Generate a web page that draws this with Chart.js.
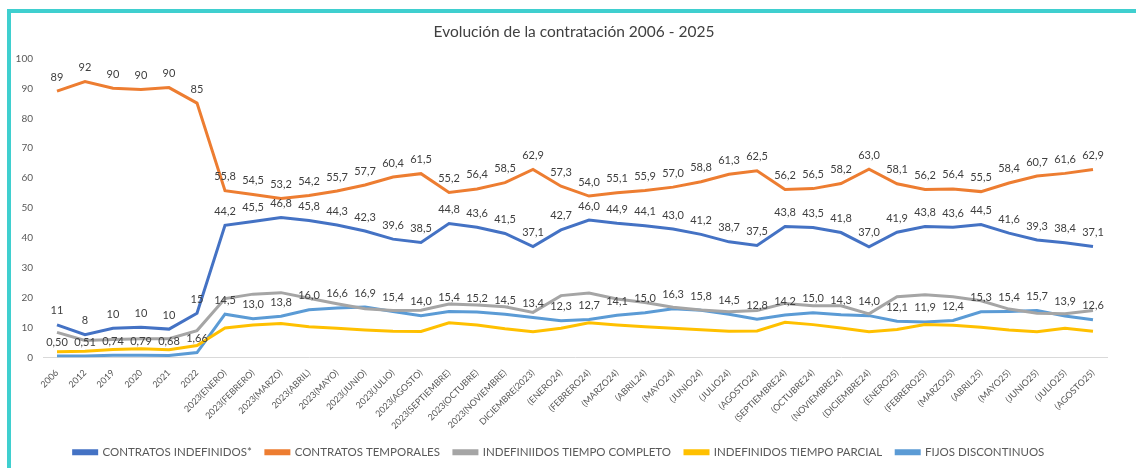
<!DOCTYPE html>
<html>
<head>
<meta charset="utf-8">
<script src="https://cdn.jsdelivr.net/npm/chart.js@4.4.1/dist/chart.umd.min.js"></script>
<style>
  html, body { margin: 0; padding: 0; background: #fff; }
  #frame {
    position: absolute; left: 7px; top: 9px; width: 1125px; height: 455px;
    border-left: 4px solid #3fcfcf; border-top: 4px solid #3fcfcf;
  }
  #chart { display: block; }
</style>
</head>
<body>
<div id="frame"><canvas id="chart" width="1125" height="455"></canvas></div>
<script>
const categories = [
  '2006', '2012', '2019', '2020', '2021', '2022',
  '2023(ENERO)', '2023(FEBRERO)', '2023(MARZO)', '2023(ABRIL)', '2023(MAYO)', '2023(JUNIO)',
  '2023(JULIO)', '2023(AGOSTO)', '2023(SEPTIEMBRE)', '2023(OCTUBRE)', '2023(NOVIEMBRE)', 'DICIEMBRE(2023)',
  '(ENERO24)', '(FEBRERO24)', '(MARZO24)', '(ABRIL24)', '(MAYO24)', '(JUNIO24)',
  '(JULIO24)', '(AGOSTO24)', '(SEPTIEMBRE24)', '(OCTUBRE24)', '(NOVIEMBRE24)', '(DICIEMBRE24)',
  '(ENERO25)', '(FEBRERO25)', '(MARZO25)', '(ABRIL25)', '(MAYO25)', '(JUNIO25)', '(JULIO25)', '(AGOSTO25)'
];

// first points are yearly figures, the rest are months
const yearCount = 6;

const indefinidos = [
  10.9, 7.6, 9.8, 10.1, 9.5, 14.8,
  44.2, 45.5, 46.8, 45.8, 44.3, 42.3, 39.6, 38.5, 44.8, 43.6, 41.5, 37.1,
  42.7, 46.0, 44.9, 44.1, 43.0, 41.2, 38.7, 37.5, 43.8, 43.5, 41.8, 37.0,
  41.9, 43.8, 43.6, 44.5, 41.6, 39.3, 38.4, 37.1
];

const temporales = [
  89.1, 92.3, 90.1, 89.7, 90.3, 85.1,
  55.8, 54.5, 53.2, 54.2, 55.7, 57.7, 60.4, 61.5, 55.2, 56.4, 58.5, 62.9,
  57.3, 54.0, 55.1, 55.9, 57.0, 58.8, 61.3, 62.5, 56.2, 56.5, 58.2, 63.0,
  58.1, 56.2, 56.4, 55.5, 58.4, 60.7, 61.6, 62.9
];

const tiempoCompleto = [
  8.4, 5.7, 6.0, 6.3, 6.3, 9.0,
  19.7, 21.2, 21.7, 19.8, 18.0, 16.3, 15.7, 15.8, 17.9, 17.6, 17.0, 15.1,
  20.7, 21.6, 19.6, 18.4, 16.8, 15.9, 15.3, 15.7, 18.1, 17.3, 17.3, 14.6,
  20.3, 21.0, 20.3, 19.0, 16.2, 14.8, 14.6, 15.7
];

const tiempoParcial = [
  1.9, 2.1, 2.7, 2.9, 2.6, 4.0,
  9.9, 10.9, 11.4, 10.3, 9.8, 9.2, 8.8, 8.7, 11.6, 10.9, 9.6, 8.6,
  9.8, 11.6, 10.9, 10.3, 9.8, 9.3, 8.8, 8.9, 11.8, 11.0, 9.9, 8.6,
  9.4, 11.0, 10.8, 10.1, 9.2, 8.6, 9.8, 8.8
];

const fijosDiscontinuos = [
  0.50, 0.51, 0.74, 0.79, 0.68, 1.66,
  14.5, 13.0, 13.8, 16.0, 16.6, 16.9, 15.4, 14.0, 15.4, 15.2, 14.5, 13.4,
  12.3, 12.7, 14.1, 15.0, 16.3, 15.8, 14.5, 12.8, 14.2, 15.0, 14.3, 14.0,
  12.1, 11.9, 12.4, 15.3, 15.4, 15.7, 13.9, 12.6
];

const fmt = (v, d) => v.toFixed(d).replace('.', ',');

// value labels above the points, Excel style
const valueLabels = {
  id: 'valueLabels',
  afterDatasetsDraw(chart) {
    const ctx = chart.ctx;
    ctx.save();
    ctx.font = '11px Lato';
    ctx.fillStyle = '#404040';
    ctx.textAlign = 'center';
    ctx.textBaseline = 'middle';
    chart.data.datasets.forEach((ds, di) => {
      if (ds.yearDigits === undefined) return;
      chart.getDatasetMeta(di).data.forEach((pt, i) => {
        const d = i < yearCount ? ds.yearDigits : 1;
        ctx.fillText(fmt(ds.data[i], d), pt.x, pt.y - 14);
      });
    });
    ctx.restore();
  }
};

// title is centred on the whole frame, not on the padded layout box
const titleShift = {
  id: 'titleShift',
  afterLayout(chart) {
    chart.titleBlock.left += 15;
    chart.titleBlock.right += 15;
  }
};

const line = (label, data, color, extra) => Object.assign({
  label, data, borderColor: color, backgroundColor: color,
  borderWidth: 3, pointRadius: 0, tension: 0, fill: false
}, extra);

new Chart(document.getElementById('chart'), {
  type: 'line',
  data: {
    labels: categories,
    datasets: [
      line('CONTRATOS INDEFINIDOS*', indefinidos, '#4472c4', { yearDigits: 0 }),
      line('CONTRATOS TEMPORALES', temporales, '#ed7d31', { yearDigits: 0 }),
      line('INDEFINIIDOS TIEMPO COMPLETO', tiempoCompleto, '#a5a5a5'),
      line('INDEFINIDOS TIEMPO PARCIAL', tiempoParcial, '#ffc000'),
      line('FIJOS DISCONTINUOS', fijosDiscontinuos, '#5b9bd5', { yearDigits: 2 })
    ]
  },
  options: {
    responsive: false,
    animation: false,
    layout: { padding: { left: 0, right: 29, top: 0, bottom: 0 } },
    plugins: {
      title: {
        display: true,
        text: 'Evolución de la contratación 2006 - 2025',
        color: '#404040',
        font: { family: 'Lato', size: 15.5, weight: 'normal' },
        padding: { top: 10, bottom: 17 }
      },
      legend: {
        position: 'bottom',
        labels: {
          color: '#595959',
          font: { family: 'Lato', size: 11.5 },
          boxWidth: 23,
          boxHeight: 3,
          padding: 14
        }
      },
      tooltip: { enabled: false }
    },
    scales: {
      x: {
        offset: true,
        grid: { display: false },
        border: { display: true, color: '#d9d9d9', width: 1 },
        ticks: {
          color: '#595959',
          font: { family: 'Lato', size: 9 },
          maxRotation: 45,
          minRotation: 45,
          autoSkip: false,
          padding: 2
        },
        afterFit(scale) { scale.height = 75; }
      },
      y: {
        min: 0,
        max: 100,
        grid: { display: false, drawTicks: false },
        border: { display: false },
        ticks: {
          stepSize: 10,
          color: '#595959',
          font: { family: 'Lato', size: 10 },
          padding: 10
        },
        afterFit(scale) { scale.width = 32; }
      }
    }
  },
  plugins: [valueLabels, titleShift]
});
</script>
</body>
</html>
